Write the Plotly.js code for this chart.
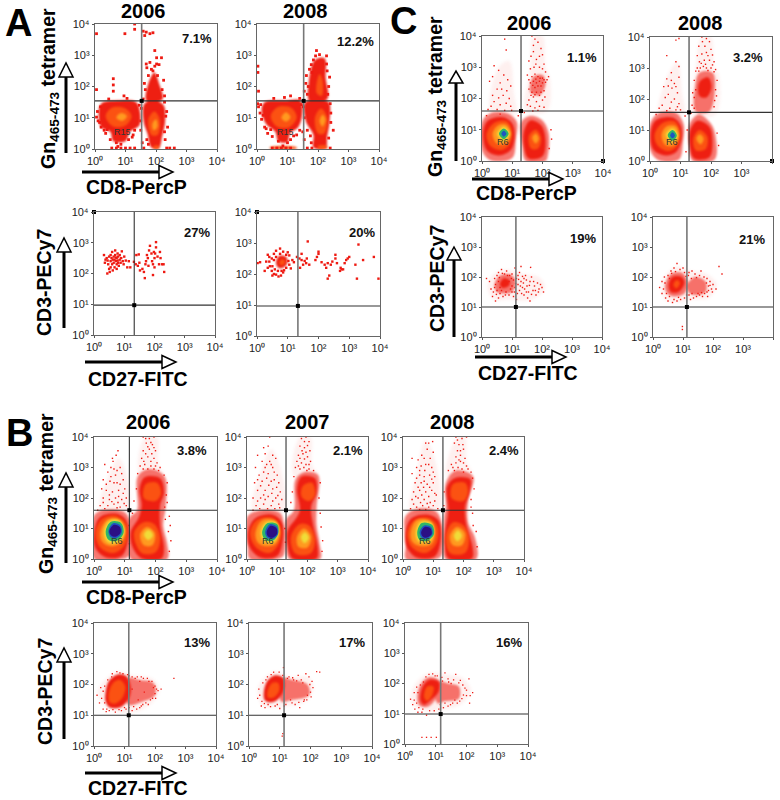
<!DOCTYPE html>
<html><head><meta charset="utf-8">
<script src="https://cdn.plot.ly/plotly-3.0.1.min.js"></script>
<style>html,body{margin:0;padding:0;background:#fff}</style></head>
<body><div id="chart" style="width:780px;height:800px"></div>
<script>
const tickValues=[1,10,100,1000,10000];
const tickLabels=['10⁰','10¹','10²','10³','10⁴'];

// ---------- A ----------
const a1Red=[[[.12,1.05],[.2,1.45],[.8,1.55],[1.35,1.5],[1.48,1.15],[1.45,.75],[1.15,.55],[1,.25],[.6,.25],[.5,.55],[.2,.7]],
 [[1.62,1.45],[1.95,1.55],[2.25,1.4],[2.3,.9],[2.2,.4],[2.1,.05],[1.85,.05],[1.72,.5],[1.6,.85]],
 [[1.68,1.55],[1.75,2.1],[1.95,2.45],[2.1,2.1],[2.22,1.6],[1.95,1.5]]];
const a1Orange=[[[.35,1.05],[.55,1.32],[1,1.3],[1.2,1.05],[1,.75],[.6,.72]],[[1.75,.95],[1.95,1.2],[2.12,.95],[2.05,.45],[1.85,.45]]];
const a1Amber=[[[.7,1],[.85,1.15],[1.05,1.05],[.9,.9]],[[1.88,.8],[2,.95],[2.05,.7],[1.92,.6]]];
const a1Specks=[[1.58,3.77],[1.68,3.74],[1.8,3.69],[1.63,3.63],[1.9,3.72],[.98,3.69],[1.3,3.83],[1.3,4],[.05,3.69],[1.96,3.15],[1.8,2.77],[1.68,2.72],[2.02,2.92],[2.18,2.92],[2.1,2.7],[2.02,2.72],[1.96,2.65],[1.85,2.55],[1.7,2.6],[2.25,2.2],[1.62,2.1],[.6,2.25],[.6,2.05],[.6,1.85],[.05,1.9],[.95,1.7],[.45,1.6],[1.05,1.62],[.1,.9],[.2,.7],[.35,.5],[.5,.3],[.7,.2],[.85,.15],[1.1,.3],[1.25,.45],[.55,.03],[.7,.03],[.85,.03],[1,.03],[1.15,.03],[1.3,.03],[1.6,.03],[2.35,.03],[2.45,.03],[2.6,.03],[2.3,.3],[2.38,.7],[2.35,1.2],[1.5,.6],[1.55,.2],[.08,1.2],[.05,1.02],[.18,1.35],[.3,.6],[.4,.62],[1.45,1.4],[1.52,1.3],[1.5,.9],[.15,.85],[1.3,.6],[1.22,.38],[.75,.08],[1.75,.15],[1.7,.3],[2.28,.55],[2.32,1.05],[1.58,1.6],[2.28,1.5],[1.65,1.9],[2.2,1.9],[2.28,1.7],[1.9,2.5],[1.75,2.35],[2.05,2.35]];
const a1Bottom=[[[1.92,.02],[1.92,.1],[2.1,.1],[2.1,.02]]];
const a2Red=[[[.15,1.25],[.25,1.5],[.9,1.55],[1.42,1.55],[1.48,1.1],[1.35,.7],[1.08,.5],[1,.22],[.7,.25],[.6,.55],[.3,.8]],
 [[1.58,1.5],[2,1.55],[2.35,1.5],[2.38,.9],[2.3,.4],[2.25,.05],[1.85,.05],[1.85,.45],[1.6,.9]],
 [[1.72,1.55],[1.7,2.15],[1.9,2.85],[2.22,2.9],[2.25,2.3],[2.3,1.6]]];
const a2Orange=[[[.45,1.05],[.7,1.35],[1.15,1.3],[1.3,1],[1.05,.7],[.65,.72]],[[1.9,1],[2.1,1.3],[2.3,1],[2.2,.5],[2,.5]],[[1.95,1.8],[2.05,2.4],[2.15,2.2],[2.12,1.7]]];
const a2Amber=[[[.8,1],[.95,1.18],[1.1,1.02],[.95,.88]],[[2.05,.9],[2.15,1.1],[2.25,.95],[2.15,.72]]];
const a2Specks=[[1.95,3.15],[1.92,2.98],[1.85,2.85],[2.05,3.02],[2.28,2.98],[1.78,2.7],[1.72,2.55],[1.62,2.35],[1.6,2.1],[1.55,1.85],[2.38,2.3],[2.35,2],[.03,2.65],[.03,2.45],[.05,1.85],[.9,1.65],[.55,1.62],[1.1,1.7],[1.4,1.62],[.05,1.35],[.1,1.15],[.15,.95],[.25,.7],[.35,.5],[.5,.4],[.7,.25],[.85,.1],[1,.2],[1.1,.3],[1.3,.45],[.5,.03],[.65,.03],[.8,.03],[.95,.03],[1.1,.03],[1.65,.03],[1.8,.03],[2.4,.03],[2.5,.6],[2.42,1.15],[1.5,.55],[1.55,.3],[1.65,.6],[2.4,1.45],[.02,1.45],[.12,1.42],[.2,1.08],[.3,.65],[.45,.62],[1.45,1.42],[1.52,1.35],[1.55,1],[1.4,.6],[1.2,.42],[1.78,.2],[1.75,.42],[2.35,.35],[2.42,.85],[1.65,1.75],[1.68,2],[2.32,1.75],[2.3,2.5],[1.8,2.45],[2.28,2.72]];
const a2Bottom=[[[.42,.02],[.42,.06],[1.3,.06],[1.3,.02]],[[2,.02],[2,.1],[2.3,.1],[2.3,.02]]];
const a3Specks=[[.33,2.6],[.38,2.45],[.42,2.5],[.36,2.35],[.45,2.42],[.47,2.3],[.5,2.55],[.5,2.15],[.44,2],[.52,2.05],[.55,2.2],[.55,2.4],[.55,2.6],[.58,2.5],[.6,2.3],[.6,2.7],[.62,2.45],[.62,2.1],[.65,2.55],[.65,2.35],[.68,2.2],[.68,2.45],[.7,2.6],[.7,2.75],[.72,2.4],[.72,2.52],[.75,2.3],[.75,2.5],[.75,2.15],[.78,2.65],[.78,2.42],[.8,2.35],[.8,2.55],[.82,2.25],[.85,2.45],[.85,2.6],[.88,2.35],[.9,2.5],[.92,2.72],[.95,2.4],[.98,2.3],[1,2.55],[1.05,2.42],[1.1,2.2],[1.15,2.4],[1.2,2.2],[1.32,2.38],[1.38,2.3],[1.45,2.25],[1.5,2.35],[1.4,2.6],[1.48,2.62],[1.52,2.1],[1.6,2.15],[1.65,2.05],[1.68,1.85],[1.75,2.6],[1.72,2.4],[1.7,2.3],[1.78,2.5],[1.8,2.25],[1.82,2.75],[1.85,2.9],[1.9,2.65],[1.92,2.4],[1.95,2.3],[1.98,2.7],[2,2.2],[2,2.5],[2.02,2.65],[2.05,2.85],[2.05,3.02],[2.1,2.55],[2.15,2.3],[2.18,2.7],[2.2,2.5],[2.25,2.3],[2.3,2.3],[2.32,2.05],[1.95,1.95]];
const a4Red=[[[.62,2.35],[.72,2.58],[.95,2.55],[.98,2.35],[.85,2.2],[.7,2.2]]];
const a4Orange=[[[.72,2.35],[.82,2.48],[.92,2.4],[.82,2.28]]];
const a4Specks=[[.02,2.35],[.1,2.38],[.35,2.62],[.4,2.4],[.42,2.25],[.35,2.2],[.48,2.1],[.5,1.95],[.55,2],[.62,1.98],[.7,1.92],[.78,1.95],[.8,2.1],[.85,2.05],[.95,2.2],[.4,2.55],[.55,2.65],[.62,2.75],[.75,2.82],[.85,2.72],[1,2.7],[1.05,2.6],[1.15,2.45],[1.2,2.38],[1.3,2.55],[1.38,2.5],[1.45,2.45],[1.5,2.3],[1.55,2.42],[1.6,2.35],[1.62,2.5],[1.7,2.3],[1.4,2.2],[1.45,2.65],[1.65,3.05],[1.9,2.45],[1.95,2.55],[2,2.65],[2,2.72],[2.1,2.38],[2.2,2.3],[2.25,2.2],[2.3,2.35],[2.35,1.95],[2.4,2.3],[2.45,2.4],[2.55,2.5],[2.55,2.62],[2.6,2.35],[2.7,2.1],[2.72,2.2],[2.75,2.15],[2.8,2.15],[2.85,2.35],[2.9,2.45],[2.95,2.5],[3,2.55],[3.2,2.3],[3.25,1.85],[3.3,2.95],[3.45,2.45],[3.8,2.55],[3.95,1.85],[2.3,1.85],[.25,2.1],[.3,2.4],[.5,2.25],[.55,2.45],[.58,2.15],[.62,2.55],[.68,2.1],[.75,2.65],[.88,2.12],[.95,2.62],[1.02,2.42],[1.05,2.3],[1.1,2.18],[.48,2.5]];
// ---------- C ----------
const c1Haze=[[[.02,1.3],[.35,1.55],[.9,1.5],[1.15,1.25],[1.12,.7],[1,.1],[.3,.02],[.02,.3]],[[1.3,1.25],[1.6,1.45],[2,1.3],[2.2,.9],[2.18,.2],[2.1,0],[1.45,0],[1.33,.5]],[[1.6,2.2],[1.7,2.7],[2,2.75],[2.1,2.45],[1.9,2.1]]];
const c1Faint=[[[1.45,1.6],[1.6,3],[1.7,4],[2,4],[2.1,3],[2.25,2.6],[2.15,1.6]],[[.3,1.5],[.55,3],[.9,3.2],[1.05,2.2],[1.1,1.5]]];
const c1Red=[[[.05,1],[.2,1.3],[.7,1.4],[1,1.2],[1.08,.8],[.95,.35],[.55,.18],[.15,.35]],[[1.4,1],[1.6,1.3],[1.95,1.15],[2.1,.7],[2,.15],[1.55,.08],[1.38,.5]]];
const c1Orange=[[[.15,.85],[.4,1.22],[.8,1.28],[.98,1],[.92,.55],[.65,.35],[.28,.48]],[[1.55,.8],[1.78,1],[1.95,.75],[1.85,.4],[1.62,.4]]];
const c1Amber=[[[.35,.87],[.55,1.15],[.82,1.15],[.95,.85],[.78,.55],[.5,.55]],[[1.66,.75],[1.78,.88],[1.88,.72],[1.78,.56]]];
const c1Yellow=[[[.5,.87],[.72,1.1],[.92,.87],[.72,.62]]];
const c1Green=[[[.56,.87],[.72,1.04],[.88,.87],[.72,.7]]];
const c1Blue=[[[.64,.87],[.72,.97],[.81,.87],[.72,.78]]];
const c1Specks=[[.75,3.9],[.8,3.55],[.4,3.05],[.55,2.9],[.72,2.75],[.25,2.55],[.85,2.6],[.95,2.4],[.5,2.3],[.7,2.1],[.9,2],[.4,1.9],[.6,1.8],[.95,1.75],[.2,1.65],[.75,1.62],[1.65,4],[1.75,3.9],[1.85,3.8],[1.7,3.5],[2,3.4],[1.55,3.2],[1.8,3.25],[2.05,3.1],[1.6,2.95],[1.72,3],[1.9,3],[2.1,2.85],[2.2,2.7],[1.5,2.75],[1.65,2.7],[1.75,2.78],[1.85,2.7],[2,2.65],[2.15,2.6],[1.6,2.5],[1.7,2.55],[1.8,2.5],[1.9,2.55],[2,2.5],[2.1,2.52],[1.75,2.35],[1.85,2.4],[1.95,2.4],[1.55,2.3],[1.65,2.2],[1.8,2.2],[2.05,2.25],[1.7,2.05],[1.9,2.1],[1.55,1.95],[1.8,1.9],[2,1.95],[1.6,1.75],[1.75,1.7],[1.9,1.75],[2.3,.7],[2.22,.4],[2.28,1],[1.7,3.7],[1.95,3.6],[1.62,3.35],[1.9,3.35],[1.78,3.1],[2,2.95],[1.55,2.6],[1.68,2.42],[1.78,2.62],[1.92,2.65],[2.05,2.6],[1.62,2.1],[1.75,2.12],[1.95,2.2],[2.08,2.05],[1.5,1.8],[1.68,1.6],[1.85,1.62],[2.05,1.72],[.35,2.7],[.6,2.5],[.65,2.3],[.82,2.25],[.35,2.1],[.55,2.02],[.8,1.85],[.3,1.75],[.5,1.65],[.98,1.62],[1.4,1.55],[1.2,1.45],[.15,1.45],[.6,1.5]];
const c2Haze=[[[.02,1.25],[.3,1.55],[.85,1.55],[1.1,1.2],[1.08,.6],[.95,.05],[.3,.02],[.03,.3]],[[1.3,1.2],[1.6,1.5],[2,1.2],[2.15,.8],[2.12,.05],[1.4,0],[1.28,.5]],[[1.5,1.6],[1.48,2.4],[1.62,2.85],[2.05,2.85],[2.13,2.4],[1.95,1.6]]];
const c2Faint=[[[1.4,1.5],[1.5,3],[1.7,4],[2,4],[2.1,3],[2.25,2.8],[2.15,1.5]],[[.3,1.5],[.6,2.8],[.9,3.2],[1.05,2.2],[1.1,1.5]]];
const c2Red=[[[.04,1.02],[.2,1.32],[.75,1.4],[1,1.15],[1.03,.7],[.85,.28],[.5,.18],[.1,.38]],[[1.32,1],[1.55,1.3],[1.95,1.1],[2.05,.65],[1.95,.12],[1.45,.08],[1.3,.5]],[[1.62,2.1],[1.62,2.55],[1.9,2.7],[2.02,2.4],[1.85,2.05]]];
const c2Orange=[[[.15,.85],[.4,1.22],[.8,1.28],[.98,.95],[.9,.5],[.6,.32],[.25,.5]],[[1.42,.72],[1.62,1],[1.88,.78],[1.82,.38],[1.5,.35]]];
const c2Amber=[[[.38,.85],[.55,1.12],[.85,1.12],[.95,.8],[.78,.5],[.5,.52]],[[1.52,.72],[1.63,.86],[1.76,.72],[1.66,.54]]];
const c2Yellow=[[[.52,.85],[.74,1.06],[.92,.82],[.74,.6]]];
const c2Green=[[[.58,.83],[.74,1],[.88,.82],[.74,.65]]];
const c2Blue=[[[.66,.83],[.74,.93],[.82,.82],[.74,.73]]];
const c2Specks=[[.85,3.9],[.95,3.95],[.55,3.4],[.85,3.2],[.95,3.05],[.7,2.85],[.55,2.65],[.95,2.7],[.8,2.5],[.45,2.4],[.72,2.35],[.9,2.2],[.6,2.15],[.8,2],[.95,1.85],[.4,1.8],[.65,1.7],[.85,1.65],[1.7,4],[1.85,3.95],[1.95,3.85],[1.6,3.7],[1.8,3.7],[2,3.6],[1.55,3.4],[1.7,3.45],[1.85,3.5],[1.62,3.2],[1.78,3.25],[1.95,3.25],[2.1,3.2],[1.55,3],[1.65,3],[1.75,3.05],[1.85,3],[2,3],[2.15,2.95],[1.45,2.6],[2.2,2.6],[1.4,2.2],[2.18,2.1],[1.38,1.8],[2.1,1.75],[1.25,1.6],[1.35,1.55],[2.25,.5],[2.2,.9],[1.72,3.85],[1.9,3.4],[2.05,3.42],[1.68,3.15],[1.82,3.12],[2.05,3.1],[1.5,2.9],[1.6,2.9],[1.9,2.92],[2.1,2.88],[1.5,2.3],[1.45,2.05],[2.15,2.3],[2.12,1.95],[1.45,1.7],[.7,2.6],[.6,2.42],[.85,2.4],[.5,2.05],[.7,1.9],[.9,1.75],[.3,1.7],[.55,1.62],[1,1.65],[1.15,1.45],[.2,1.5],[1.18,.3],[1.22,1]];
const c3Faint=[[[.18,1.7],[.4,2.1],[.8,2.25],[1.4,2.1],[1.9,2],[2.1,1.65],[1.8,1.3],[1.4,1.2],[.9,1.25],[.4,1.25]]];
const c3Haze=[[[.42,1.75],[.6,2.05],[.95,2.08],[1.12,1.85],[1,1.5],[.7,1.45],[.48,1.52]]];
const c3Red=[[[.6,1.78],[.72,1.95],[.9,1.9],[.92,1.75],[.8,1.65],[.65,1.65]]];
const c3Specks=[[.15,1.95],[.25,1.85],[.3,1.6],[.35,1.35],[.45,1.2],[.5,1.55],[.45,1.75],[.42,1.95],[.5,2.05],[.55,2.15],[.6,1.45],[.65,2.25],[.7,1.35],[.75,2.1],[.8,1.5],[.82,2.2],[.9,1.4],[.92,2.05],[.95,1.6],[1,2.1],[1,1.7],[1.05,1.9],[1.05,1.35],[1.1,2.3],[1.1,1.65],[1.15,1.25],[1.2,1.75],[1.2,2.05],[1.25,1.55],[1.3,2.35],[1.3,1.85],[1.35,1.65],[1.4,1.4],[1.4,1.95],[1.45,2.05],[1.5,1.7],[1.55,1.5],[1.6,1.2],[1.6,1.85],[1.65,2],[1.7,1.55],[1.75,1.7],[1.8,1.4],[1.85,1.8],[1.9,1.6],[1.95,1.75],[2,1.65],[2.05,1.5],[.55,1.85],[.6,1.65],[.9,1.85],[1,1.5],[1.15,1.95],[1.25,2.15],[1.62,2.32],[.38,1.5],[.42,1.65],[.48,1.42],[.55,1.3],[.58,1.98],[.65,1.55],[.68,2.12],[.78,1.4],[.85,2.05],[.98,1.95],[1.08,1.5],[1.12,1.78],[1.18,1.45],[1.22,1.92],[1.28,1.7],[1.32,1.45],[1.38,1.8],[1.42,1.6],[1.48,1.9],[1.52,1.3],[1.58,1.72],[1.65,1.42],[1.72,1.85],[1.78,1.55],[1.88,1.5],[1.48,1.5],[1.35,2.02]];
const c4Faint=[[[.28,1.7],[.45,2.1],[.8,2.35],[1.3,2.2],[1.8,2.1],[2.13,1.75],[1.85,1.3],[1.3,1.25],[.8,1.15],[.4,1.25]]];
const c4Haze=[[[.4,1.7],[.6,2.1],[.95,2.15],[1.15,1.85],[1.05,1.45],[.7,1.35],[.48,1.45]],[[1.15,1.75],[1.4,2],[1.75,1.85],[1.75,1.5],[1.4,1.4],[1.18,1.5]]];
const c4Red=[[[.52,1.72],[.65,2],[.95,2],[1.05,1.8],[.85,1.5],[.6,1.5]]];
const c4Orange=[[[.68,1.75],[.8,1.9],[.9,1.8],[.78,1.62]]];
const c4Specks=[[.22,1.65],[.3,1.85],[.3,1.45],[.38,2],[.42,1.3],[.5,1.2],[.5,2.05],[.6,2.2],[.65,1.15],[.7,2.3],[.8,2.45],[.8,1.2],[.9,2.25],[.92,1.25],[1.05,2.15],[1.05,1.3],[1.2,2.15],[1.2,1.4],[1.25,1.25],[1.3,2.2],[1.35,1.3],[1.4,2.1],[1.45,1.35],[1.55,2.05],[1.55,1.4],[1.6,2.2],[1.65,1.35],[1.7,2],[1.8,1.95],[1.8,1.5],[1.85,1.7],[1.9,1.85],[1.95,1.6],[2,1.75],[2.1,1.6],[2.2,2.35],[2.3,2.1],[.98,.35],[.98,.25],[.35,1.6],[.4,1.8],[.45,1.45],[.55,1.35],[.55,1.95],[.62,2.12],[.7,1.25],[.75,2.18],[.85,1.32],[1,2.3],[1.1,2.02],[1.12,1.4],[1.18,2.05],[1.28,1.95],[1.3,1.45],[1.45,1.98],[1.5,1.45],[1.62,1.48],[1.72,1.45],[1.85,1.55],[1.9,1.72],[1.78,1.8],[1.98,1.5],[1.82,1.35]];
// ---------- B ----------
const b1Faint=[[[.2,1.55],[.5,2.8],[.8,3.3],[1.02,2.9],[1.1,1.55]],[[1.5,2.7],[1.65,4],[2.05,4],[2.1,3.1],[2.3,2.7]]];
const b1Haze=[[[.02,1.45],[.55,1.62],[1.08,1.45],[1.12,.1],[.9,0],[.02,0]],[[1.17,1.35],[1.4,1.6],[1.42,2.7],[1.8,2.95],[2.3,2.7],[2.33,1.7],[2.25,1.1],[2.38,.5],[2.38,0],[1.2,0]]];
const b1Red=[[[.02,.95],[.2,1.38],[.75,1.48],[1.05,1.25],[1.1,.6],[.9,.1],[.4,.05],[.05,.35]],[[1.2,.9],[1.45,1.35],[1.55,1.75],[1.48,2.3],[1.65,2.68],[2.15,2.65],[2.28,2.2],[2.15,1.75],[2.15,1.1],[2.28,.35],[2.2,.02],[1.55,.02],[1.25,.4]]];
const b1Orange=[[[.05,.85],[.25,1.3],[.7,1.42],[1.05,1.15],[1.02,.5],[.65,.2],[.2,.38]],[[1.3,.85],[1.6,1.2],[1.95,1.15],[2.15,.7],[2,.22],[1.55,.2]],[[1.62,2],[1.68,2.45],[2.05,2.5],[2.18,2.15],[2,1.9]]];
const b1Amber=[[[.2,.85],[.42,1.28],[.78,1.3],[1,.95],[.9,.55],[.55,.42],[.28,.55]],[[1.5,.8],[1.72,1.05],[1.98,.85],[1.9,.45],[1.62,.45]]];
const b1Yellow=[[[.32,.88],[.5,1.25],[.85,1.25],[1,.9],[.8,.55],[.45,.55]],[[1.62,.8],[1.77,.96],[1.92,.78],[1.76,.62]]];
const b1Green=[[[.38,.9],[.55,1.22],[.88,1.18],[.96,.85],[.75,.6],[.48,.62]]];
const b1Blue=[[[.47,.92],[.62,1.17],[.86,1.1],[.9,.85],[.72,.68],[.54,.72]]];
const b1Navy=[[[.5,.92],[.65,1.12],[.84,1.05],[.86,.85],[.7,.73],[.56,.77]]];
const b1Specks=[[.6,3.3],[.78,3.55],[.72,3.4],[.35,3.1],[.62,3.2],[.55,3],[.85,3],[.45,2.85],[.7,2.75],[.9,2.8],[.3,2.6],[.52,2.55],[.75,2.5],[.95,2.6],[.25,2.3],[.4,2.25],[.6,2.2],[.8,2.25],[1,2.3],[.3,2],[.5,1.95],[.7,2],[.9,1.95],[1.05,2],[.2,1.75],[.45,1.75],[.65,1.8],[.85,1.7],[1.05,1.75],[1.6,4],[1.8,3.95],[1.95,4],[1.7,3.8],[1.9,3.75],[1.6,3.55],[1.8,3.6],[2,3.55],[1.55,3.3],[1.75,3.35],[1.95,3.3],[2.05,3.15],[1.5,3.05],[1.65,3.1],[1.85,3.05],[2.15,3],[1.42,2.8],[2.28,2.75],[2.38,2.5],[1.38,2.3],[2.35,2.1],[1.3,1.9],[2.3,1.7],[1.25,1.5],[2.32,1.3],[2.42,.9],[2.5,.6],[2.45,.25],[1.15,.5],[1.14,1.1],[1.68,3.95],[1.85,3.82],[1.75,3.68],[1.95,3.65],[1.68,3.45],[1.88,3.45],[1.62,3.2],[1.85,3.2],[2,3.05],[1.6,2.95],[1.75,2.95],[1.95,2.95],[2.1,2.9],[.65,2.95],[.75,2.9],[.55,2.7],[.4,2.45],[.65,2.5],[.85,2.45],[.5,2.1],[.8,2.05],[.95,2.15],[.3,1.85],[.58,1.88],[.78,1.85],[.98,1.82],[.35,1.65],[.75,1.68],[1.12,1.62],[.12,1.6],[2.38,1.85],[2.45,1.4],[2.48,1.1]];
const b2Faint=[[[.2,1.55],[.5,3],[.8,3.6],[1.1,3],[1.2,1.55]],[[1.55,2.7],[1.75,4],[2.1,4],[2.15,3.1],[2.35,2.7]]];
const b2Haze=[[[.02,1.4],[.5,1.6],[1.1,1.5],[1.22,1.1],[1.2,.1],[1,0],[.1,0],[.02,.4]],[[1.3,1.3],[1.55,1.6],[1.6,2.6],[1.9,2.85],[2.35,2.75],[2.3,1.7],[2.3,1.1],[2.4,.5],[2.42,0],[1.4,0],[1.3,.5]]];
const b2Red=[[[.05,.95],[.3,1.35],[.85,1.45],[1.15,1.2],[1.18,.6],[1,.1],[.45,.05],[.08,.4]],[[1.35,.95],[1.6,1.3],[1.75,1.6],[1.65,2.3],[1.8,2.7],[2.25,2.65],[2.3,2.2],[2.12,1.7],[2.2,1.05],[2.35,.3],[2.3,.02],[1.5,.02],[1.34,.45]]];
const b2Orange=[[[.1,.85],[.33,1.28],[.85,1.35],[1.12,1],[1.05,.5],[.75,.2],[.3,.38]],[[1.45,.72],[1.75,1.15],[2.05,1.1],[2.25,.65],[2.1,.18],[1.6,.18]],[[1.8,2.05],[1.85,2.4],[2.15,2.5],[2.25,2.1],[2.05,1.9]]];
const b2Amber=[[[.28,.85],[.5,1.27],[.92,1.25],[1.08,.9],[.95,.5],[.6,.42],[.35,.55]],[[1.65,.72],[1.88,1],[2.12,.75],[2,.38],[1.7,.4]]];
const b2Yellow=[[[.45,.88],[.62,1.2],[.98,1.2],[1.05,.85],[.88,.55],[.55,.58]],[[1.78,.72],[1.92,.88],[2.05,.7],[1.9,.52]]];
const b2Green=[[[.5,.88],[.68,1.18],[1,1.14],[1.03,.82],[.85,.6],[.6,.63]]];
const b2Blue=[[[.6,.88],[.75,1.14],[.98,1.07],[1.02,.82],[.85,.66],[.67,.7]]];
const b2Navy=[[[.65,.88],[.78,1.09],[.97,1.02],[.99,.82],[.84,.7],[.7,.74]]];
const b2Specks=[[.75,4],[.55,3.65],[.7,3.7],[.35,3.4],[.6,3.45],[.85,3.4],[.5,3.2],[.75,3.2],[.95,3.3],[.28,3],[.6,3],[.85,3],[.4,2.75],[.7,2.8],[1,2.75],[.25,2.5],[.5,2.55],[.8,2.55],[1.05,2.5],[.35,2.25],[.6,2.25],[.85,2.3],[1.1,2.2],[.2,2],[.45,2],[.7,2.05],[.95,2],[1.15,1.95],[.3,1.75],[.55,1.8],[.8,1.75],[1.05,1.8],[1.8,3.95],[1.95,4],[2.05,3.85],[1.75,3.7],[1.9,3.65],[2.08,3.55],[1.7,3.4],[1.85,3.45],[2,3.35],[1.65,3.2],[1.8,3.15],[1.95,3.1],[2.1,3.2],[1.6,3],[1.75,2.95],[2.05,2.95],[2.2,2.9],[1.55,2.7],[2.42,2.5],[1.5,2.2],[2.38,2],[1.45,1.85],[2.5,.6],[2.48,.25],[1.25,1],[1.27,.55],[1.9,3.85],[2,3.72],[1.82,3.55],[1.95,3.5],[1.75,3.3],[1.9,3.28],[2.05,3.1],[1.7,3.05],[1.88,3],[1.98,2.9],[.65,3.1],[.8,3.1],[.55,2.85],[.9,2.85],[.35,2.6],[.65,2.65],[.9,2.6],[.45,2.4],[.72,2.42],[.98,2.35],[.55,2.1],[.82,2.15],[1.02,2.08],[.35,1.9],[.6,1.95],[.85,1.9],[1.08,1.68],[.42,1.65],[.68,1.65],[.92,1.65],[.2,1.6],[2.42,1.5],[2.45,1.05]];
const b3Faint=[[[.25,1.55],[.45,2.8],[.75,3.9],[1.1,3.1],[1.15,1.55]],[[1.45,2.7],[1.8,4],[2.05,4],[2.1,3.2],[2.3,2.75]]];
const b3Haze=[[[.08,1.4],[.5,1.65],[1.1,1.55],[1.27,1.2],[1.26,.1],[1.1,0],[.1,0],[.1,.5]],[[1.36,1.4],[1.42,1.7],[1.42,2.5],[1.75,2.9],[2.32,2.7],[2.15,1.9],[2.15,1.2],[2.38,.7],[2.42,0],[1.4,0],[1.36,.5]]];
const b3Red=[[[.1,.95],[.3,1.35],[.85,1.45],[1.18,1.25],[1.24,.6],[1.05,.08],[.45,.05],[.12,.4]],[[1.4,.95],[1.5,1.6],[1.45,2.35],[1.7,2.65],[2.22,2.62],[2.2,2.2],[2.05,1.7],[2.1,1.1],[2.3,.4],[2.28,.02],[1.5,.02],[1.38,.45]]];
const b3Orange=[[[.14,.85],[.38,1.28],[.85,1.35],[1.15,1.05],[1.1,.5],[.75,.2],[.3,.38]],[[1.42,.78],[1.65,1.2],[2,1.1],[2.18,.7],[2.05,.2],[1.55,.2]],[[1.6,2],[1.65,2.45],[2.05,2.5],[2.15,2.2],[2,1.9]]];
const b3Amber=[[[.25,.85],[.45,1.27],[.88,1.25],[1.05,.9],[.95,.5],[.6,.42],[.32,.55]],[[1.55,.75],[1.78,1.05],[2.05,.85],[1.95,.45],[1.65,.45]]];
const b3Yellow=[[[.42,.88],[.58,1.22],[.95,1.18],[1.03,.85],[.85,.55],[.5,.58]],[[1.68,.76],[1.82,.94],[1.95,.75],[1.8,.58]]];
const b3Green=[[[.47,.88],[.62,1.18],[.96,1.12],[1.02,.8],[.8,.6],[.55,.62]]];
const b3Blue=[[[.55,.88],[.7,1.1],[.93,1.05],[.97,.8],[.78,.66],[.62,.7]]];
const b3Navy=[[[.6,.88],[.72,1.05],[.91,1],[.94,.8],[.77,.7],[.65,.74]]];
const b3Specks=[[.75,3.8],[.85,3.8],[.98,3.85],[.3,3.3],[.5,3.25],[.62,3.4],[.8,3.6],[.9,3.3],[1,3.5],[.45,3],[.6,3.05],[.75,3.1],[.95,3],[.3,2.8],[.55,2.75],[.7,2.7],[.88,2.75],[1.05,2.7],[.4,2.5],[.6,2.5],[.8,2.45],[1,2.5],[.35,2.2],[.55,2.25],[.75,2.2],[.95,2.25],[1.1,2.1],[.3,1.95],[.5,2],[.7,1.95],[.9,1.85],[1.05,1.9],[.45,1.7],[.65,1.75],[.85,1.7],[1.75,4],[1.95,3.95],[2.1,4],[1.7,3.8],[1.85,3.75],[1.8,3.55],[2,3.6],[1.75,3.35],[1.9,3.4],[2.05,3.3],[1.6,3.1],[1.75,3.15],[1.9,3.2],[2.1,3.05],[2.25,2.85],[1.5,2.9],[1.7,2.9],[2,2.85],[2.3,2.65],[2.35,2.3],[1.36,2.2],[2.25,1.95],[1.35,1.75],[2.3,1.5],[2.42,.9],[2.45,.4],[1.8,3.9],[1.98,3.75],[1.9,3.55],[1.85,3.25],[2,3.15],[1.65,3],[1.82,3],[1.95,2.95],[2.15,2.95],[.7,3.3],[.85,3.1],[.55,2.9],[.72,2.9],[1,2.85],[.45,2.65],[.7,2.55],[.95,2.62],[.5,2.35],[.68,2.35],[.88,2.35],[.42,2.05],[.62,2.1],[.85,2.05],[1.05,2.15],[.35,1.8],[.58,1.85],[.8,1.82],[1,1.75],[.25,1.65],[.55,1.62],[.75,1.62],[1.15,1.65],[2.32,1.1],[2.25,1.7]];
const b4Faint=[[[.12,1.75],[.42,2.2],[.8,2.42],[1.3,2.3],[1.9,2.2],[2.15,1.85],[1.9,1.4],[1.4,1.12],[.8,1.1],[.35,1.3]]];
const b4Haze=[[[1.12,2.2],[1.5,2.15],[1.95,2.05],[2,1.65],[1.6,1.45],[1.12,1.35]]];
const b4Red=[[[.38,1.75],[.48,2.1],[.75,2.32],[1.05,2.28],[1.2,1.95],[1.15,1.55],[.9,1.28],[.52,1.25],[.38,1.45]]];
const b4Orange=[[[.48,1.65],[.6,2.02],[.85,2.15],[1.02,1.95],[.95,1.6],[.7,1.38],[.52,1.42]]];
const b4Specks=[[.1,1.65],[.18,1.4],[.22,1.9],[.3,1.2],[.35,1.95],[.4,1.12],[.45,2.15],[.6,2.35],[.7,1.1],[.75,2.42],[.9,1.15],[.95,2.35],[1.05,1.2],[1.15,2.28],[1.25,1.15],[1.35,2.2],[1.4,1.2],[1.5,2.1],[1.55,1.3],[1.62,2.2],[1.7,1.4],[1.8,2.1],[1.85,1.5],[1.95,1.9],[2,1.7],[2.05,1.85],[2.1,1.8],[2.2,1.85],[2.62,2.2],[1.45,1.5],[1.25,1.85],[1.65,1.75],[.25,1.55],[.3,1.78],[.35,1.4],[.42,1.2],[.5,1.15],[.58,2.25],[.62,1.18],[.82,1.18],[.85,2.38],[1,1.25],[1.1,2.32],[1.15,1.25],[1.25,2.25],[1.3,1.28],[1.42,2.25],[1.5,1.25],[1.55,2.25],[1.6,1.35],[1.75,2.2],[1.78,1.35],[1.9,2.1],[1.92,1.55],[2,1.95],[2.02,1.55]];
const b5Faint=[[[.28,1.85],[.5,2.2],[.85,2.42],[1.3,2.25],[1.9,2.25],[2.1,1.9],[1.85,1.45],[1.3,1.3],[.9,1.25],[.45,1.3]]];
const b5Haze=[[[1.05,2.2],[1.4,2.15],[1.9,2],[1.95,1.65],[1.4,1.5],[1.05,1.45]]];
const b5Red=[[[.48,1.75],[.6,2.12],[.85,2.3],[1.1,2.22],[1.15,1.9],[1,1.58],[.75,1.42],[.52,1.48]]];
const b5Orange=[[[.6,1.75],[.75,2.05],[.95,2.05],[.98,1.8],[.8,1.58],[.62,1.58]]];
const b5Specks=[[.28,1.55],[.32,1.85],[.4,1.3],[.45,2.05],[.52,1.25],[.6,2.25],[.7,1.28],[.8,2.4],[.85,1.3],[.98,2.4],[1,1.22],[1.1,2.3],[1.12,2.55],[1.15,1.3],[1.3,2.25],[1.35,1.5],[1.45,2.15],[1.5,1.35],[1.6,2.3],[1.65,1.25],[1.75,2.05],[1.8,1.5],[1.85,2.35],[1.9,1.65],[1.95,2.25],[2,1.75],[2.05,2.1],[2.08,1.9],[2.3,2.4],[2.2,2.42],[1.1,.4],[1.08,.32],[.35,1.65],[.42,1.45],[.5,1.38],[.55,2.15],[.62,1.35],[.72,2.32],[.92,1.35],[1.2,1.35],[1.25,2.2],[1.4,1.4],[1.42,2.22],[1.55,2.12],[1.62,1.42],[1.7,2.15],[1.78,1.45],[1.88,1.5],[1.98,2],[2.02,1.6]];
const b6Faint=[[[.18,1.55],[.42,2.1],[.8,2.35],[1.3,2.3],[1.85,2.2],[2.15,1.75],[1.8,1.3],[1.3,1.15],[.8,1.05],[.3,1.25]]];
const b6Haze=[[[1.05,2.05],[1.4,2],[1.75,1.9],[1.75,1.5],[1.3,1.42],[1.05,1.35]],[[.4,1.6],[.5,1.95],[.75,2.2],[1.1,2.1],[1,1.5],[.7,1.22],[.45,1.3]]];
const b6Red=[[[.5,1.45],[.58,1.9],[.8,2.12],[1.1,2.05],[1.08,1.7],[.82,1.45],[.62,1.3]]];
const b6Orange=[[[.62,1.55],[.72,1.9],[.92,1.9],[.9,1.65],[.72,1.42]]];
const b6Specks=[[.18,1.48],[.25,1.3],[.3,1.7],[.32,1.15],[.38,1.88],[.42,1.05],[.5,1.95],[.55,1.05],[.6,2.05],[.7,.95],[.78,2.3],[.9,2.32],[.95,1.1],[1.05,2.25],[1.1,1.15],[1.2,2.2],[1.25,1.2],[1.3,2.35],[1.4,2.15],[1.4,1.25],[1.5,2],[1.55,1.35],[1.65,2.3],[1.7,1.35],[1.8,2.1],[1.85,1.5],[1.95,1.85],[2,1.6],[2.08,2.15],[2.12,1.6],[2.2,1.7],[2.1,1.35],[.55,.22],[.7,.22],[.85,.22],[1.02,.22],[.3,1.45],[.38,1.35],[.42,1.7],[.45,1.2],[.58,1.15],[.68,2.22],[.8,1.1],[.98,2.25],[1.15,1.3],[1.22,2.08],[1.3,1.35],[1.42,2.05],[1.48,1.3],[1.58,2.12],[1.62,1.45],[1.75,2.02],[1.78,1.42],[1.88,1.95],[1.9,1.62],[2,1.78]];

// Quadrant gates, in decades
const gatesX=[1.53,1.53,1.33,1.33,1.29,1.28,1.13,1.13,1.15,1.29,1.32,1.14,1.14,1.16];
const gatesY=[1.54,1.54,.97,.97,1.6,1.57,1,1,1.6,1.6,1.6,1,1,.99];
const percents=['7.1%','12.2%','27%','20%','1.1%','3.2%','19%','21%','3.8%','2.1%','2.4%','13%','17%','16%'];
const regionLabels=['R15','R15','','','R6','R6','','','R6','R6','R6','','',''];

// ---------- layout tables (pixels of the 780x800 page) ----------
const W=780,H=800;
const rects=[[95,217,24,149],[257,379,24,149],[94,215,212,335],[257,380,212,336],[482,603,36,161],[650,772,37,161],[482,602,217,337],[653,773,217,337],[94,217,437,559],[247,368,437,559],[403,524,437,559],[94,216,623,746],[249,372,623,746],[405,528,623,744]];
const pctPos=[[197,39],[355,41],[197,232],[362,232],[582,57],[748,57],[583,238],[752,239],[192,450],[348,450],[504,450],[197,642],[352,642],[509,642]];
const regPos=[[122,132],[285,132],null,null,[503,142],[672,142],null,null,[117,541],[268,541],[425,541],null,null,null];
const gateGrey=[1,1,0,1,0,0,1,1,0,0,0,1,1,1];
const cornerMark=[null,null,[0,4],[0,4],[4,0],[4,0],null,null,null,null,null,null,null,null];
const square=[2.8,2.8,2.4,2.4,1.4,1.4,1.4,1.4,1.4,1.4,1.4,1.3,1.3,1.3];
const softness=[.9,.9,.9,.9,1.2,1.2,1.1,1.1,1.2,1.2,1.2,1.1,1.1,1.1];
const levelBlur={faint:1.4,haze:1,red:.9,orange:1.1,amber:1,yellow:.7,green:.4,blue:.4,navy:.4};
// last x tick label of the two page-edge panels, placed just inside the page: [panel, x decade, y decade]
const edgeTick=[[5,3.87,-.355],[7,3.83,-.367]];

const P=(o)=>Object.assign({faint:[],haze:[],red:[],orange:[],amber:[],yellow:[],green:[],blue:[],navy:[],specks:[]},o);
const cells=[
 P({red:a1Red,orange:a1Orange.concat(a1Bottom),amber:a1Amber,specks:a1Specks}),
 P({red:a2Red,orange:a2Orange.concat(a2Bottom),amber:a2Amber,specks:a2Specks}),
 P({specks:a3Specks}),
 P({red:a4Red,orange:a4Orange,specks:a4Specks}),
 P({faint:c1Faint,haze:c1Haze,red:c1Red,orange:c1Orange,amber:c1Amber,yellow:c1Yellow,green:c1Green,blue:c1Blue,specks:c1Specks}),
 P({faint:c2Faint,haze:c2Haze,red:c2Red,orange:c2Orange,amber:c2Amber,yellow:c2Yellow,green:c2Green,blue:c2Blue,specks:c2Specks}),
 P({faint:c3Faint,haze:c3Haze,red:c3Red,specks:c3Specks}),
 P({faint:c4Faint,haze:c4Haze,red:c4Red,orange:c4Orange,specks:c4Specks}),
 P({faint:b1Faint,haze:b1Haze,red:b1Red,orange:b1Orange,amber:b1Amber,yellow:b1Yellow,green:b1Green,blue:b1Blue,navy:b1Navy,specks:b1Specks}),
 P({faint:b2Faint,haze:b2Haze,red:b2Red,orange:b2Orange,amber:b2Amber,yellow:b2Yellow,green:b2Green,blue:b2Blue,navy:b2Navy,specks:b2Specks}),
 P({faint:b3Faint,haze:b3Haze,red:b3Red,orange:b3Orange,amber:b3Amber,yellow:b3Yellow,green:b3Green,blue:b3Blue,navy:b3Navy,specks:b3Specks}),
 P({faint:b4Faint,haze:b4Haze,red:b4Red,orange:b4Orange,specks:b4Specks}),
 P({faint:b5Faint,haze:b5Haze,red:b5Red,orange:b5Orange,specks:b5Specks}),
 P({faint:b6Faint,haze:b6Haze,red:b6Red,orange:b6Orange,specks:b6Specks})
];
const levelColors={faint:'rgba(240,40,30,0.07)',haze:'rgba(240,35,25,0.62)',red:'#ee1f12',orange:'#fb5212',amber:'#ff9a20',yellow:'#f0dc38',green:'#2fb56a',blue:'#1f55c0',navy:'#2b0f85'};
const pow=d=>Math.pow(10,d);
const fx=x=>x/W, fy=y=>1-y/H;

const traces=[],layout={width:W,height:H,margin:{l:0,r:0,t:0,b:0},showlegend:false,hovermode:false,paper_bgcolor:'#fff',plot_bgcolor:'rgba(0,0,0,0)',font:{family:'"Liberation Sans",Arial,sans-serif',color:'#000'},annotations:[],shapes:[]};
cells.forEach((c,i)=>{
 const n=i+1,xa='x'+n,ya='y'+n,r=rects[i];
 const axis={type:'log',range:[0,4],tickmode:'array',tickvals:tickValues,ticktext:tickLabels,ticks:'outside',ticklen:2,tickwidth:1,tickcolor:'#555',tickfont:{size:11,color:'#222',family:'"Liberation Sans",Arial,sans-serif'},showgrid:false,zeroline:false,showline:true,mirror:true,linecolor:'#666',linewidth:1.2,automargin:false,fixedrange:true};
 layout['xaxis'+n]=Object.assign({},axis,{domain:[fx(r[0]),fx(r[1])],anchor:ya});
 layout['yaxis'+n]=Object.assign({},axis,{domain:[fy(r[3]),fy(r[2])],anchor:xa});
 Object.keys(levelColors).forEach(k=>{
  if(!c[k].length)return;
  const xs=[],ys=[];
  c[k].forEach(poly=>{poly.concat([poly[0]]).forEach(p=>{xs.push(pow(p[0]));ys.push(pow(p[1]));});xs.push(null);ys.push(null);});
  traces.push({type:'scatter',mode:'lines',x:xs,y:ys,xaxis:xa,yaxis:ya,fill:'toself',fillcolor:levelColors[k],line:{width:0,shape:'spline',smoothing:1,color:levelColors[k]},connectgaps:false,meta:softness[i]*levelBlur[k]});
 });
 traces.push({type:'scatter',mode:'markers',x:c.specks.map(p=>pow(p[0])),y:c.specks.map(p=>pow(p[1])),xaxis:xa,yaxis:ya,marker:{symbol:'square',size:square[i],color:'#ee1a12',line:{width:0}}});
 const g=gateGrey[i];
 traces.push({type:'scatter',mode:'lines',x:[pow(gatesX[i]),pow(gatesX[i])],y:[1,10000],xaxis:xa,yaxis:ya,line:{color:g?'#777':'#333',width:g?1.6:1.1}});
 traces.push({type:'scatter',mode:'lines',x:[1,10000],y:[pow(gatesY[i]),pow(gatesY[i])],xaxis:xa,yaxis:ya,line:{color:'#333',width:1.1}});
 const mx=[pow(gatesX[i])],my=[pow(gatesY[i])];
 if(cornerMark[i]){mx.push(pow(cornerMark[i][0]));my.push(pow(cornerMark[i][1]));}
 traces.push({type:'scatter',mode:'markers',x:mx,y:my,xaxis:xa,yaxis:ya,cliponaxis:false,marker:{symbol:'square',size:4,color:'#000'}});
 layout.annotations.push({xref:'paper',yref:'paper',xanchor:'center',yanchor:'middle',x:fx(pctPos[i][0]),y:fy(pctPos[i][1]),text:'<b>'+percents[i]+'</b>',showarrow:false,font:{size:13,color:'#111'}});
 if(regPos[i])layout.annotations.push({xref:'paper',yref:'paper',xanchor:'center',yanchor:'middle',x:fx(regPos[i][0]),y:fy(regPos[i][1]),text:regionLabels[i],showarrow:false,font:{size:9,color:'#333'}});
});
edgeTick.forEach(p=>traces.push({type:'scatter',mode:'text',x:[pow(p[1])],y:[pow(p[2])],text:[tickLabels[4]],textposition:'middle center',textfont:{size:11,color:'#222',family:'"Liberation Sans",Arial,sans-serif'},xaxis:'x'+(p[0]+1),yaxis:'y'+(p[0]+1),cliponaxis:false}));

// Texts
const label=(t,x,y,s,a)=>layout.annotations.push({xref:'paper',yref:'paper',xanchor:'center',yanchor:'middle',x:fx(x),y:fy(y),text:'<b>'+t+'</b>',showarrow:false,textangle:a||0,font:{size:s,color:'#000'}});
[['2006',143,11],['2008',305,11],['2006',529,23],['2008',700,23],['2006',148,422],['2007',307,422],['2008',452,422]].forEach(t=>label(t[0],t[1],t[2],20));
[['A',18,23],['C',403,21],['B',19,433]].forEach(t=>label(t[0],t[1],t[2],38));
const gn='Gn<sub>465-473</sub> tetramer';
[[50,88],[437,97],[47,494]].forEach(p=>label(gn,p[0],p[1],19.5,-90));
[[44,283],[437,279],[45,692]].forEach(p=>label('CD3-PECy7',p[0],p[1],19.5,-90));
[[136,187],[526,193],[136,597]].forEach(p=>label('CD8-PercP',p[0],p[1],19.5));
[[138,379],[528,373],[138,788]].forEach(p=>label('CD27-FITC',p[0],p[1],19.5));

// Arrows
const S=(o)=>layout.shapes.push(Object.assign({xref:'paper',yref:'paper'},o));
const up=(x,y0,yb,tip)=>{S({type:'line',x0:fx(x),x1:fx(x),y0:fy(y0),y1:fy(yb),line:{color:'#000',width:3}});
 S({type:'path',path:`M ${fx(x-7)} ${fy(yb)} L ${fx(x+7)} ${fy(yb)} L ${fx(x)} ${fy(tip)} Z`,fillcolor:'#fff',line:{color:'#000',width:1.5}});};
const right=(y,x0,xb,tip)=>{S({type:'line',x0:fx(x0),x1:fx(xb),y0:fy(y),y1:fy(y),line:{color:'#000',width:3}});
 S({type:'path',path:`M ${fx(xb)} ${fy(y-6.5)} L ${fx(xb)} ${fy(y+6.5)} L ${fx(tip)} ${fy(y)} Z`,fillcolor:'#fff',line:{color:'#000',width:1.5}});};
up(66,153,77,63);right(172,82,159,173);
up(64,328,252,238);right(362,85,162,176);
up(456,161,83,71);right(179,472,549,563);
up(454,337,260,247);right(357,475,552,566);
up(66,563,487,473);right(582,82,159,173);
up(64,739,662,648);right(773,85,162,176);

Plotly.newPlot('chart',traces,layout,{displayModeBar:false,staticPlot:true}).then(gd=>{
 // soften the density-level edges, as in the source cytometry bitmap
 gd.querySelectorAll('.scatterlayer .trace').forEach(t=>{
  const d=t.__data__&&t.__data__[0]&&t.__data__[0].trace;
  const f=t.querySelector('path.js-fill');
  if(f&&d&&d.meta)f.style.filter='blur('+d.meta+'px)';
 });
});
</script></body></html>
